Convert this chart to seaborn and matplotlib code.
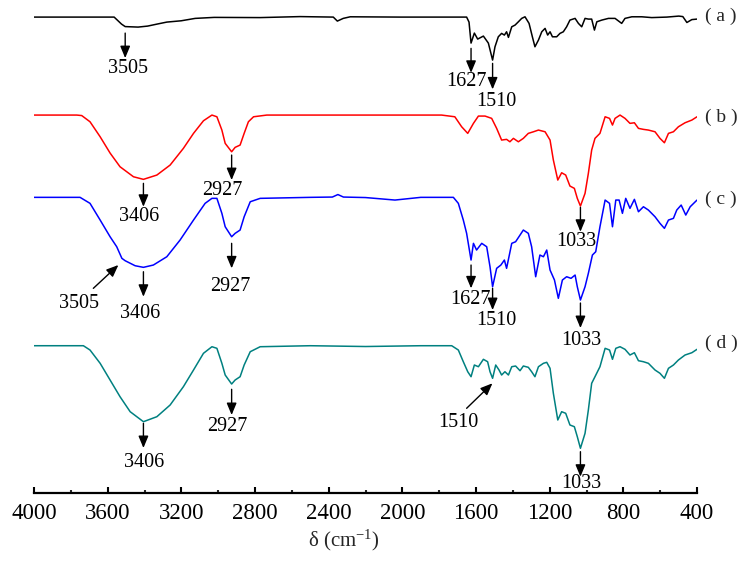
import pandas as pd
import numpy as np
import seaborn as sns
from matplotlib import pyplot as plt

sns.set_theme(style="white")
plt.rcParams["font.family"] = ["Liberation Serif", "Noto Sans CJK SC"]
plt.rcParams["mathtext.fontset"] = "custom"
plt.rcParams["mathtext.rm"] = "Liberation Serif"
plt.rcParams["mathtext.default"] = "rm"

# FTIR spectra, stacked (arbitrary transmittance units, curves offset)
a_wn = [4000, 3750, 3565, 3525, 3505, 3435, 3383, 3332, 3279, 3201, 3125, 3022, 2772, 2555, 2375,
        2353, 2321, 2283, 2011, 1787, 1651, 1638, 1627, 1609, 1591, 1560, 1533, 1510, 1497, 1479,
        1461, 1446, 1434, 1424, 1406, 1388, 1370, 1352, 1334, 1312, 1294, 1280, 1261, 1243, 1225,
        1211, 1198, 1185, 1162, 1144, 1126, 1108, 1090, 1062, 1044, 1026, 1008, 990, 972, 957,
        944, 917, 881, 845, 809, 791, 754, 700, 646, 564, 499, 477, 455, 428, 400]
a_sig = [476, 476, 476, 469, 466.5, 466, 467, 469, 471, 472.3, 474.7, 475.7, 475.5, 476.5, 476,
         472, 474.7, 476.3, 476, 476, 476, 471, 450, 460, 454, 457, 450, 433, 446.3, 456.3,
         459.7, 458, 461.3, 455.7, 466.3, 468, 471.3, 474.7, 476.3, 469.7, 456.3, 446.3, 453, 461.3, 464.7,
         458, 461.3, 456.3, 456.3, 459.7, 461.3, 466.3, 473, 474.7, 469.7, 466.3, 474.7, 474, 474, 463,
         471.3, 473, 474.7, 474.7, 469.7, 474.7, 476.3, 476.3, 475.5, 476, 477, 476.5, 470.6, 473.5, 474]

b_wn = [4000, 3768, 3741, 3696, 3641, 3587, 3533, 3460, 3406, 3333, 3261, 3189, 3134, 3080, 3034,
        3007, 2980, 2962, 2927, 2908, 2881, 2859, 2836, 2808, 2736, 2500, 2200, 1900, 1787, 1715,
        1678, 1645, 1614, 1587, 1551, 1515, 1488, 1461, 1434, 1416, 1397, 1370, 1343, 1316, 1288,
        1261, 1225, 1198, 1180, 1156, 1135, 1113, 1090, 1066, 1050, 1033, 1008, 990, 972, 954,
        927, 899, 875, 859, 845, 818, 791, 764, 740, 718, 691, 664, 628, 601, 577,
        555, 528, 501, 465, 428, 400]
b_sig = [378, 378, 377.5, 371.3, 356.3, 340, 326.3, 316.3, 313.7, 318, 328, 344.7, 359.7, 372.3, 378,
         376.3, 363, 349.7, 341.3, 345.7, 348, 359.7, 371.3, 376.3, 378, 378, 378, 378, 378, 376.3,
         366.3, 359.7, 369.7, 377, 377, 374.7, 364.7, 353, 353.7, 351.3, 354.7, 351.3, 354.7, 359.7, 361.3,
         363, 361.3, 353, 333, 313, 320.3, 318, 307, 304.7, 294.7, 287, 299.7, 319.7, 343, 354.7,
         359.7, 376.3, 374.7, 368, 374.7, 378, 374.7, 369.7, 370.3, 364.7, 363.7, 363, 361.3, 354.7, 350.3,
         359.7, 361.3, 366.3, 370.3, 373, 376.3]

c_wn = [4000, 3750, 3696, 3641, 3587, 3551, 3523, 3505, 3451, 3406, 3352, 3279, 3207, 3134, 3071,
        3034, 3007, 2980, 2962, 2927, 2908, 2881, 2859, 2826, 2772, 2500, 2380, 2350, 2320, 2200,
        2040, 1900, 1787, 1723, 1696, 1669, 1651, 1627, 1614, 1597, 1569, 1542, 1524, 1510, 1488,
        1465, 1446, 1434, 1406, 1385, 1367, 1343, 1316, 1298, 1276, 1253, 1234, 1216, 1198, 1174,
        1153, 1131, 1108, 1084, 1062, 1050, 1033, 1008, 990, 968, 950, 927, 899, 875, 859,
        841, 823, 805, 787, 764, 740, 718, 691, 664, 628, 601, 577, 555, 528, 510,
        486, 461, 437, 400]
c_sig = [295.7, 295.7, 289.7, 273, 256.3, 246.3, 234.7, 232.3, 227.3, 225.7, 228, 236.3, 253, 273, 289.7,
         294.7, 294.7, 279.7, 266.3, 256.3, 259.7, 263, 276.3, 291.3, 294.7, 295.7, 296, 298.5, 296, 295.5,
         293, 295.7, 295.7, 295.7, 289.7, 273, 259.7, 233, 249.7, 243, 249.7, 246.3, 226.3, 206.3, 224.7,
         228, 233, 224.7, 249.7, 251.3, 256.3, 263, 259.7, 246.3, 216.3, 238, 236.3, 243, 223, 213,
         194.7, 213, 216.3, 214.7, 218, 206.3, 193, 206.3, 219.7, 238, 241.3, 266.3, 293, 289.7, 266.3,
         293, 293, 279.7, 294.7, 284.7, 293.7, 281.3, 286.3, 283, 276.3, 269.7, 264.7, 273, 274.7, 283,
         288, 278, 286.3, 293]

d_wn = [4000, 3732, 3696, 3641, 3587, 3533, 3478, 3406, 3333, 3261, 3189, 3134, 3080, 3034, 3007,
        2980, 2962, 2927, 2908, 2881, 2859, 2826, 2772, 2500, 2200, 1900, 1732, 1696, 1669, 1645,
        1627, 1609, 1587, 1560, 1537, 1524, 1510, 1493, 1475, 1461, 1443, 1424, 1406, 1385, 1361,
        1343, 1316, 1298, 1280, 1261, 1234, 1216, 1198, 1180, 1156, 1135, 1113, 1090, 1066, 1050,
        1033, 1008, 990, 972, 954, 927, 899, 875, 859, 841, 818, 791, 764, 740, 718,
        691, 664, 628, 601, 577, 555, 528, 501, 465, 428, 400]
d_sig = [147.3, 147.3, 143, 129.7, 113, 96.3, 81.3, 71.3, 76.3, 88, 106.3, 123, 139.7, 146.3, 144.7,
         129.7, 118, 109, 113, 116.3, 128, 141.3, 146.3, 147.3, 146.5, 147.3, 147.3, 143, 131.3, 121.3,
         116.3, 128, 126.3, 133.7, 131.3, 121.3, 114.7, 128, 123, 118, 121.3, 118, 126.3, 127, 122.3,
         127, 125.7, 121.3, 116.3, 126.3, 129.7, 130.7, 124.7, 99.7, 73, 81.3, 79.7, 68, 66.3, 56.3,
         44.7, 59.7, 83, 109.7, 116.3, 126.3, 144.7, 143, 133.7, 144.7, 146.3, 143.7, 138, 140.3, 132.3,
         131.3, 129.7, 123, 119.7, 114.7, 124.7, 128, 133, 138, 140.3, 143.7]

samples = ["a", "b", "c", "d"]
sample_labels = ["( a )", "( b )", "( c )", "( d )"]
label_levels = [477, 376, 294, 150]
colors = {"a": "#000000", "b": "#ff0000", "c": "#0000ff", "d": "#008080"}

# peak annotations: text, arrow tip (wn, y), arrow tail (wn, y), label (wn, y)
peaks = [
    ("3505", 3505, 435, 3505, 460, 3490, 424.7),
    ("1627", 1627, 420.3, 1627, 444.7, 1651, 411.3),
    ("1510", 1510, 403.7, 1510, 429.7, 1488, 391.3),
    ("3406", 3406, 286.3, 3406, 309.7, 3429, 276.3),
    ("2927", 2927, 313, 2927, 338, 2980, 303),
    ("1033", 1033, 261.3, 1033, 285.7, 1057, 251.3),
    ("3505", 3542, 228, 3678, 204.7, 3758, 190),
    ("3406", 3406, 196.3, 3406, 221.3, 3426, 179.7),
    ("2927", 2927, 224.7, 2927, 249.7, 2935, 206.3),
    ("1627", 1627, 204.7, 1627, 228, 1628, 193.7),
    ("1510", 1510, 183, 1510, 204.7, 1488, 173),
    ("1033", 1033, 165, 1033, 190, 1030, 153),
    ("3406", 3406, 45, 3406, 69.7, 3400, 30),
    ("2927", 2927, 78, 2927, 103.7, 2950, 66.3),
    ("1510", 1511, 109.7, 1651, 84.7, 1696, 70.3),
    ("1033", 1033, 16.3, 1033, 41.3, 1030, 9),
]

spectra = pd.concat([
    pd.DataFrame({"wavenumber": a_wn, "signal": a_sig, "sample": "a"}),
    pd.DataFrame({"wavenumber": b_wn, "signal": b_sig, "sample": "b"}),
    pd.DataFrame({"wavenumber": c_wn, "signal": c_sig, "sample": "c"}),
    pd.DataFrame({"wavenumber": d_wn, "signal": d_sig, "sample": "d"}),
], ignore_index=True)

fig = plt.figure(figsize=(7.43, 5.66), dpi=100)
ax = fig.add_axes([0.0458, 0.129, 0.8923, 0.862])

sns.lineplot(data=spectra, x="wavenumber", y="signal", hue="sample", palette=colors,
             estimator=None, sort=False, legend=False, lw=1.1, ax=ax)

ax.set_xlim(4000, 400)
ax.set_ylim(0, 488)
ax.set_xticks(np.arange(4000, 399, -400))
ax.set_xticks(np.arange(3800, 400, -400), minor=True)
ax.set_yticks([])
for side in ["left", "top", "right"]:
    ax.spines[side].set_visible(False)
ax.spines["bottom"].set_linewidth(1.6)
ax.spines["bottom"].set_color("black")
ax.tick_params(axis="x", which="major", direction="in", length=4.5, width=1.5,
               labelsize=16.5, pad=7, colors="black", bottom=True)
ax.tick_params(axis="x", which="minor", direction="in", length=2.5, width=1.5, bottom=True)

ax.set_ylabel("")
ax.set_xlabel(r"δ (cm$^{-1}$)", fontsize=15)
ax.xaxis.label.set_va("center")
ax.xaxis.set_label_coords(0.468, -0.098)

for text, x_tip, y_tip, x_tail, y_tail, x_lab, y_lab in peaks:
    ax.annotate("", xy=(x_tip, y_tip), xytext=(x_tail, y_tail),
                arrowprops=dict(arrowstyle="-|>,head_length=0.6,head_width=0.25",
                                color="black", lw=1.0, shrinkA=0, shrinkB=0,
                                mutation_scale=12))
    ax.text(x_lab, y_lab, text, fontsize=14.5, ha="center", va="center", color="black")

for lab, level in zip(sample_labels, label_levels):
    ax.annotate(lab, xy=(400, level), xytext=(6, 0), textcoords="offset points",
                fontsize=14, ha="left", va="center", annotation_clip=False)

fig.savefig("out.png", dpi=100)
